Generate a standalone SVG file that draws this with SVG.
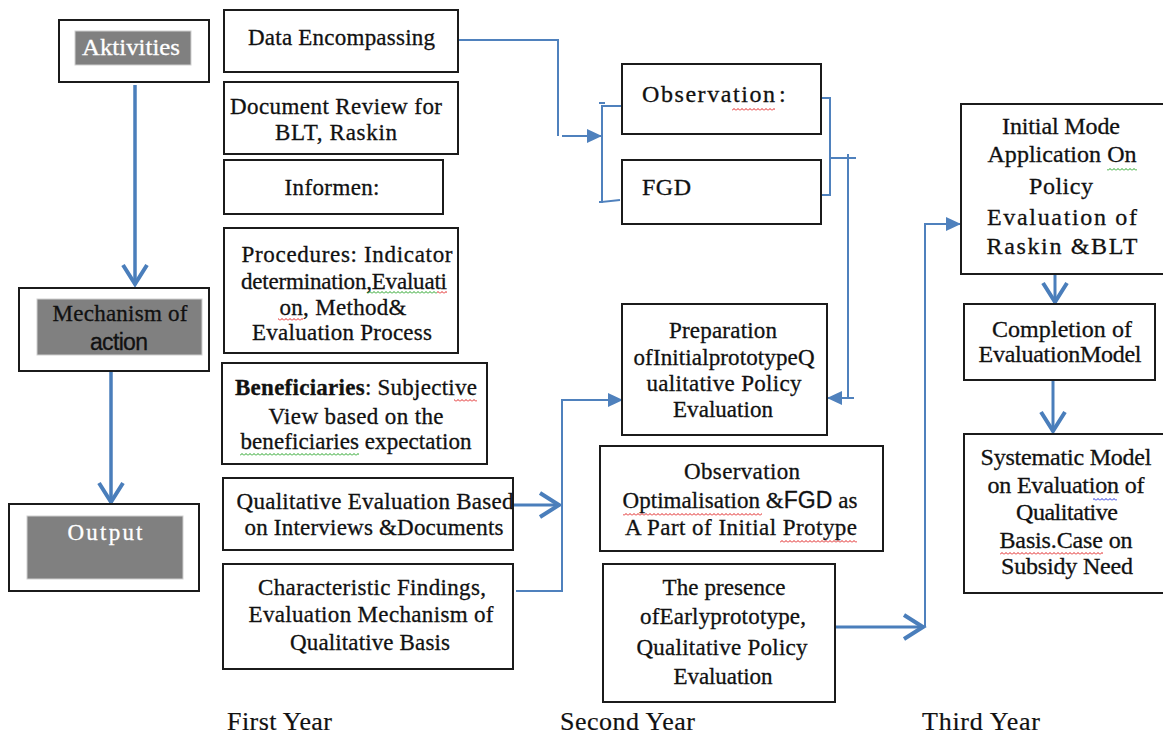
<svg xmlns="http://www.w3.org/2000/svg" width="1163" height="734" viewBox="0 0 1163 734">
<style>
  .box{fill:#fff;stroke:#1b1b1b;stroke-width:2}
  .grey{fill:#808080;stroke:#cfcfcf;stroke-width:1}
  text{font-family:"Liberation Serif","Times New Roman",serif;font-size:23px;fill:#111;stroke:#111;stroke-width:0.3}
  .m{text-anchor:middle}
  .w{fill:#fff;stroke:#fff}
  .s2{font-size:23px}
  .s3{font-size:24px}
  .lbl{font-size:26px;stroke-width:0.2}
  .sans{font-family:"Liberation Sans",Arial,sans-serif}
  .c{fill:none;stroke:#4F81BD;stroke-width:2}
  .ct{fill:none;stroke:#4A7EBB;stroke-width:3.5}
</style>
<defs>
  <marker id="chev" markerUnits="userSpaceOnUse" markerWidth="30" markerHeight="30" refX="24" refY="14" orient="auto" viewBox="0 0 30 30">
    <path d="M4,2 L23,14 L4,26" fill="none" stroke="#4A7EBB" stroke-width="4"/>
  </marker>
  <marker id="tri" markerUnits="userSpaceOnUse" markerWidth="16" markerHeight="16" refX="15" refY="8" orient="auto" viewBox="0 0 16 16">
    <path d="M0,1 L15,8 L0,15 z" fill="#4F81BD"/>
  </marker>
  <pattern id="wr" patternUnits="userSpaceOnUse" width="4" height="3"><path d="M0,2.5 L2,0.5 L4,2.5" fill="none" stroke="#e02020" stroke-width="1"/></pattern>
  <pattern id="wg" patternUnits="userSpaceOnUse" width="4" height="3"><path d="M0,2.5 L2,0.5 L4,2.5" fill="none" stroke="#20a020" stroke-width="1"/></pattern>
  <pattern id="wb" patternUnits="userSpaceOnUse" width="4" height="3"><path d="M0,2.5 L2,0.5 L4,2.5" fill="none" stroke="#2030e0" stroke-width="1"/></pattern>
</defs>

<g id="connectors">
  <line class="ct" x1="135" y1="85" x2="135" y2="285" marker-end="url(#chev)"/>
  <line class="ct" x1="111" y1="371" x2="111" y2="503" marker-end="url(#chev)"/>
  <polyline class="c" points="458,40 558,40 558,136"/>
  <line class="c" x1="562" y1="136" x2="602" y2="136" marker-end="url(#tri)"/>
  <polyline class="c" points="622,106 602,106 602,202 620,200"/>
  <line class="c" x1="599" y1="103" x2="605" y2="103"/>
  <line class="c" x1="599" y1="202" x2="603" y2="202"/>
  <polyline class="c" points="821,98 830,98 830,195 821,195"/>
  <line class="c" x1="830" y1="158" x2="856" y2="158"/>
  <line class="c" x1="848" y1="154" x2="848" y2="398"/>
  <line class="c" x1="848" y1="398" x2="854" y2="398"/>
  <line class="c" x1="848" y1="398" x2="827" y2="398" marker-end="url(#tri)"/>
  <line class="ct" style="stroke-width:3" x1="513" y1="505" x2="560" y2="505" marker-end="url(#chev)"/>
  <polyline class="c" points="516,591 562,591 562,400 623,400" marker-end="url(#tri)"/>
  <line class="ct" style="stroke-width:3" x1="835" y1="627" x2="924" y2="627" marker-end="url(#chev)"/>
  <polyline class="c" points="925,627 925,224 961,224" marker-end="url(#tri)"/>
  <line class="ct" style="stroke-width:3" x1="1055" y1="274" x2="1055" y2="303" marker-end="url(#chev)"/>
  <line class="ct" style="stroke-width:3" x1="1053" y1="381" x2="1053" y2="432" marker-end="url(#chev)"/>
</g>

<g id="aktivities">
  <rect class="box" x="59" y="20" width="150" height="62"/>
  <rect class="grey" x="75" y="31" width="116" height="34"/>
  <text class="m w" x="131" y="55" font-size="25" textLength="98" lengthAdjust="spacingAndGlyphs">Aktivities</text>
</g>
<g id="mechanism">
  <rect class="box" x="19" y="288" width="190" height="83"/>
  <rect class="grey" x="37" y="299" width="165" height="56"/>
  <text class="m" x="120" y="321" textLength="135">Mechanism of</text>
  <text class="m sans" x="119" y="350" font-size="22" textLength="58">action</text>
</g>
<g id="output">
  <rect class="box" x="9" y="504" width="190" height="87"/>
  <rect class="grey" x="27" y="516" width="156" height="63"/>
  <text class="m w" x="105" y="540" font-size="25" textLength="75">Output</text>
</g>

<g id="data-encompassing">
  <rect class="box" x="224" y="10" width="234" height="62"/>
  <text x="248" y="45" textLength="187">Data Encompassing</text>
</g>
<g id="document-review">
  <rect class="box" x="224" y="82" width="234" height="72"/>
  <text class="m" x="336" y="114" textLength="212">Document Review for</text>
  <text class="m" x="336" y="140" textLength="122">BLT, Raskin</text>
</g>
<g id="informen">
  <rect class="box" x="224" y="160" width="219" height="54"/>
  <text class="m" x="332" y="195" textLength="95">Informen:</text>
</g>
<g id="procedures">
  <rect class="box" x="224" y="228" width="234" height="125"/>
  <text class="m" x="347" y="262" textLength="211">Procedures: Indicator</text>
  <text class="m" x="344" y="289" textLength="206">determination,Evaluati</text>
  <text class="m" x="343" y="315" textLength="127">on, Method&amp;</text>
  <text class="m" x="342" y="340" textLength="180">Evaluation Process</text>
  <rect x="367" y="291" width="70" height="3" fill="url(#wg)"/>
  <rect x="437" y="291" width="10" height="3" fill="url(#wr)"/>
  <rect x="278" y="318" width="25" height="3" fill="url(#wr)"/>
</g>
<g id="beneficiaries">
  <rect class="box" x="222" y="363" width="265" height="101"/>
  <text class="m" x="356" y="395" textLength="242"><tspan font-weight="bold">Beneficiaries</tspan>: Subjective</text>
  <text class="m" x="356" y="424" textLength="175">View based on the</text>
  <text class="m" x="356" y="449" textLength="231">beneficiaries expectation</text>
  <rect x="454" y="399" width="23" height="3" fill="url(#wr)"/>
  <rect x="240" y="453" width="119" height="3" fill="url(#wg)"/>
</g>
<g id="qualitative-evaluation">
  <rect class="box" x="223" y="478" width="290" height="72"/>
  <text class="m" x="375" y="509" textLength="277">Qualitative Evaluation Based</text>
  <text class="m" x="374" y="535" textLength="259">on Interviews &amp;Documents</text>
</g>
<g id="characteristic">
  <rect class="box" x="223" y="564" width="290" height="105"/>
  <text class="m" x="372" y="595" textLength="228">Characteristic Findings,</text>
  <text class="m" x="371" y="622" textLength="245">Evaluation Mechanism of</text>
  <text class="m" x="370" y="650" textLength="160">Qualitative Basis</text>
</g>

<g id="observation">
  <rect class="box" x="622" y="64" width="199" height="70"/>
  <text class="s3" x="642" y="102" textLength="133">Observation</text>
  <text class="s3" x="779" y="102">:</text>
  <rect x="732" y="108" width="43" height="3" fill="url(#wr)"/>
</g>
<g id="fgd">
  <rect class="box" x="622" y="160" width="199" height="64"/>
  <text class="s3" x="642" y="195" textLength="49">FGD</text>
</g>
<g id="preparation">
  <rect class="box" x="622" y="304" width="205" height="131"/>
  <text class="m s2" x="723" y="338" textLength="108">Preparation</text>
  <text class="m s2" x="724" y="365" textLength="181">ofInitialprototypeQ</text>
  <text class="m s2" x="724" y="391" textLength="155">ualitative Policy</text>
  <text class="m s2" x="723" y="417" textLength="100">Evaluation</text>
</g>
<g id="observation-optimalisation">
  <rect class="box" x="600" y="446" width="283" height="105"/>
  <text class="m s2" x="742" y="479" textLength="116">Observation</text>
  <text class="m s2" x="740" y="508" textLength="235">Optimalisation &amp;<tspan class="sans">FGD</tspan> as</text>
  <text class="m s2" x="741" y="535" textLength="232">A Part of Initial Protype</text>
  <rect x="623" y="513" width="139" height="3" fill="url(#wr)"/>
  <rect x="780" y="540" width="77" height="3" fill="url(#wr)"/>
</g>
<g id="presence">
  <rect class="box" x="603" y="564" width="232" height="138"/>
  <text class="m s2" x="724" y="595" textLength="123">The presence</text>
  <text class="m s2" x="723" y="624" textLength="166">ofEarlyprototype,</text>
  <text class="m s2" x="722" y="655" textLength="171">Qualitative Policy</text>
  <text class="m s2" x="723" y="684" textLength="99">Evaluation</text>
</g>

<g id="initial-mode">
  <rect class="box" x="961" y="104" width="206" height="170"/>
  <text class="m s3" x="1061" y="134" textLength="118">Initial Mode</text>
  <text class="m s3" x="1062" y="162" textLength="149">Application On</text>
  <text class="m s3" x="1061" y="194" textLength="64">Policy</text>
  <text class="m s3" x="1062" y="225" textLength="150">Evaluation of</text>
  <text class="m s3" x="1062" y="254" textLength="151">Raskin &amp;BLT</text>
  <rect x="1107" y="168" width="30" height="3" fill="url(#wg)"/>
</g>
<g id="completion">
  <rect class="box" x="964" y="304" width="191" height="76"/>
  <text class="m s3" x="1062" y="337" textLength="140">Completion of</text>
  <text class="m s3" x="1060" y="362" textLength="163">EvaluationModel</text>
</g>
<g id="systematic">
  <rect class="box" x="964" y="434" width="203" height="159"/>
  <text class="m s3" x="1066" y="465" textLength="171">Systematic Model</text>
  <text class="m s3" x="1066" y="493" textLength="157">on Evaluation of</text>
  <text class="m s3" x="1067" y="520" textLength="102">Qualitative</text>
  <text class="m s3" x="1066" y="548" textLength="133">Basis.Case on</text>
  <text class="m s3" x="1067" y="574" textLength="132">Subsidy Need</text>
  <rect x="1093" y="498" width="24" height="3" fill="url(#wb)"/>
  <rect x="1000" y="552" width="103" height="3" fill="url(#wr)"/>
</g>

<g id="year-labels">
  <text class="lbl" x="227" y="730" textLength="105">First Year</text>
  <text class="lbl" x="560" y="730" textLength="135">Second Year</text>
  <text class="lbl" x="922" y="730" textLength="118">Third Year</text>
</g>
</svg>
